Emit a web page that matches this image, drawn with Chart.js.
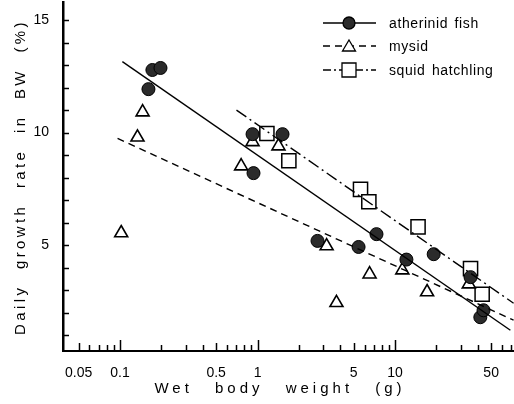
<!DOCTYPE html>
<html>
<head>
<meta charset="utf-8">
<script src="https://cdn.jsdelivr.net/npm/chart.js"></script>
<style>
  html, body { margin: 0; padding: 0; background: #fff; }
  #wrap { width: 514px; height: 404px; }
</style>
</head>
<body>
<div id="wrap"><canvas id="growth" width="514" height="404"></canvas></div>
<script>
// values
var fishX  = [0.161, 0.172, 0.197, 0.92, 0.935, 1.52, 2.73, 5.43, 7.33, 12.1, 19.1, 35.4, 41.7, 44];
var fishY  = [11.93, 12.78, 12.87, 9.93, 8.2, 9.93, 5.19, 4.92, 5.49, 4.36, 4.6, 3.58, 1.8, 2.11];
var mysidX = [0.102, 0.134, 0.146, 0.76, 0.92, 1.42, 3.18, 3.75, 6.53, 11.3, 17.1, 34.4];
var mysidY = [5.54, 9.79, 10.91, 8.51, 9.59, 9.4, 4.96, 2.44, 3.71, 3.89, 2.92, 3.27];
var squidX = [1.17, 1.69, 5.61, 6.45, 14.7, 35.4, 43];
var squidY = [9.96, 8.75, 7.48, 6.93, 5.81, 3.96, 2.82];

// regression lines (end points)
var fishFitX  = [0.104, 69];
var fishFitY  = [13.15, 1.22];
var mysidFitX = [0.096, 72.8];
var mysidFitY = [9.74, 1.67];
var squidFitX = [0.703, 72.8];
var squidFitY = [11.0, 2.42];

var seriesNames = ['atherinid fish', 'mysid', 'squid hatchling'];
var xTickLabels = [0.05, 0.1, 0.5, 1, 5, 10, 50];
var yTickLabels = [5, 10, 15];
var xMinorTicks = [0.05, 0.06, 0.07, 0.08, 0.09, 0.1, 0.2, 0.3, 0.4, 0.5, 0.6, 0.7, 0.8, 0.9, 1,
                   2, 3, 4, 5, 6, 7, 8, 9, 10, 20, 30, 40, 50, 60, 70];
var yMinorTicks = [1, 2, 3, 4, 5, 6, 7, 8, 9, 10, 11, 12, 13, 14, 15];

function pts(xs, ys) {
    return xs.map(function(x, i) { return {x: x, y: ys[i]}; });
}

var FONT = '"Liberation Sans", Arial, sans-serif';
var fishFill = '#2b2b2b';
var dashMysid = [7, 5];
var dashSquid = [12, 4, 2, 4];

// inner ticks, axis titles and the legend of the original figure
var decorations = {
    id: 'decorations',
    afterDraw: function(chart) {
        var ctx = chart.ctx;
        var xs = chart.scales.x, ys = chart.scales.y;
        var a = chart.chartArea;
        ctx.save();
        ctx.strokeStyle = '#000';
        ctx.lineWidth = 1.5;
        yMinorTicks.forEach(function(v) {
            var py = Math.round(ys.getPixelForValue(v)) + 0.5;
            ctx.beginPath();
            ctx.moveTo(a.left, py);
            ctx.lineTo(a.left + 6, py);
            ctx.stroke();
        });
        xMinorTicks.forEach(function(v) {
            var px = Math.round(xs.getPixelForValue(v)) + 0.5;
            var len = 6;
            if (v === 0.1 || v === 1 || v === 10) len = 11;
            else if (v === 0.05 || v === 0.5 || v === 5 || v === 50) len = 8;
            ctx.beginPath();
            ctx.moveTo(px, a.bottom);
            ctx.lineTo(px, a.bottom - len);
            ctx.stroke();
        });

        // axis titles
        ctx.fillStyle = '#000';
        ctx.font = '15px ' + FONT;
        ctx.textBaseline = 'middle';
        ctx.textAlign = 'left';
        ctx.letterSpacing = '4px';
        ctx.wordSpacing = '14px';
        var xt = 'Wet body weight (g)';
        var w = ctx.measureText(xt).width;
        ctx.fillText(xt, 280 - w / 2, 389);

        ctx.translate(21, 177);
        ctx.rotate(-Math.PI / 2);
        ctx.letterSpacing = '3.4px';
        ctx.wordSpacing = '8px';
        var yt = 'Daily growth rate in BW (%)';
        w = ctx.measureText(yt).width;
        ctx.fillText(yt, -w / 2, 0);
        ctx.setTransform(1, 0, 0, 1, 0, 0);

        // legend
        var rows = [23, 46, 70];
        var dashes = [[], dashMysid, [8, 3, 2, 3]];
        ctx.letterSpacing = '0.6px';
        ctx.wordSpacing = '2px';
        ctx.font = '14px ' + FONT;
        rows.forEach(function(ry, i) {
            ctx.setLineDash(dashes[i]);
            ctx.lineWidth = 1.3;
            ctx.beginPath();
            ctx.moveTo(323, ry);
            ctx.lineTo(376, ry);
            ctx.stroke();
            ctx.setLineDash([]);
            ctx.beginPath();
            if (i === 0) {
                ctx.arc(349, ry, 6, 0, Math.PI * 2);
                ctx.fillStyle = fishFill;
            } else if (i === 1) {
                ctx.moveTo(349, ry - 6);
                ctx.lineTo(355.5, ry + 5);
                ctx.lineTo(342.5, ry + 5);
                ctx.closePath();
                ctx.fillStyle = '#fff';
            } else {
                ctx.rect(342, ry - 7, 14, 14);
                ctx.fillStyle = '#fff';
            }
            ctx.fill();
            ctx.stroke();
            ctx.fillStyle = '#000';
            ctx.fillText(seriesNames[i], 389, ry + 1);
        });
        ctx.restore();
    }
};

var ctx = document.getElementById('growth').getContext('2d');
var config = {
    type: 'scatter',
    data: {
        datasets: [{
            type: 'line',
            data: pts(fishFitX, fishFitY),
            borderColor: '#000',
            borderWidth: 1.4,
            pointRadius: 0
        }, {
            type: 'line',
            data: pts(mysidFitX, mysidFitY),
            borderColor: '#000',
            borderWidth: 1.4,
            borderDash: dashMysid,
            pointRadius: 0
        }, {
            type: 'line',
            data: pts(squidFitX, squidFitY),
            borderColor: '#000',
            borderWidth: 1.4,
            borderDash: dashSquid,
            pointRadius: 0
        }, {
            label: seriesNames[0],
            data: pts(fishX, fishY),
            pointStyle: 'circle',
            pointRadius: 6.5,
            backgroundColor: fishFill,
            borderColor: '#000',
            borderWidth: 1
        }, {
            label: seriesNames[1],
            data: pts(mysidX, mysidY),
            pointStyle: 'triangle',
            pointRadius: 7.5,
            backgroundColor: '#fff',
            borderColor: '#000',
            borderWidth: 1.6
        }, {
            label: seriesNames[2],
            data: pts(squidX, squidY),
            pointStyle: 'rect',
            pointRadius: 10,
            backgroundColor: '#fff',
            borderColor: '#000',
            borderWidth: 1.5
        }]
    },
    options: {
        responsive: false,
        animation: false,
        layout: { autoPadding: false, padding: { top: 2, right: 0, left: 0, bottom: 0 } },
        plugins: {
            legend: { display: false },
            tooltip: { enabled: false }
        },
        scales: {
            x: {
                type: 'logarithmic',
                min: 0.0385,
                max: 73.3,
                grid: { display: false },
                border: { display: true, color: '#000', width: 2 },
                afterBuildTicks: function(scale) {
                    scale.ticks = xTickLabels.map(function(v) { return {value: v}; });
                },
                afterFit: function(scale) {
                    scale.height = 53;
                    scale.paddingLeft = 0;
                    scale.paddingRight = 0;
                },
                ticks: {
                    autoSkip: false,
                    maxRotation: 0,
                    padding: 6,
                    color: '#000',
                    font: { family: FONT, size: 14 },
                    callback: function(v) { return String(v); }
                }
            },
            y: {
                min: 0.3,
                max: 15.8,
                grid: { display: false },
                border: { display: true, color: '#000', width: 2.5 },
                afterBuildTicks: function(scale) {
                    scale.ticks = yTickLabels.map(function(v) { return {value: v}; });
                },
                afterFit: function(scale) {
                    scale.width = 63;
                    scale.paddingTop = 0;
                    scale.paddingBottom = 0;
                },
                ticks: {
                    padding: 6,
                    color: '#000',
                    font: { family: FONT, size: 14 }
                }
            }
        }
    },
    plugins: [decorations]
};
var growthChart = new Chart(ctx, config);
</script>
</body>
</html>
